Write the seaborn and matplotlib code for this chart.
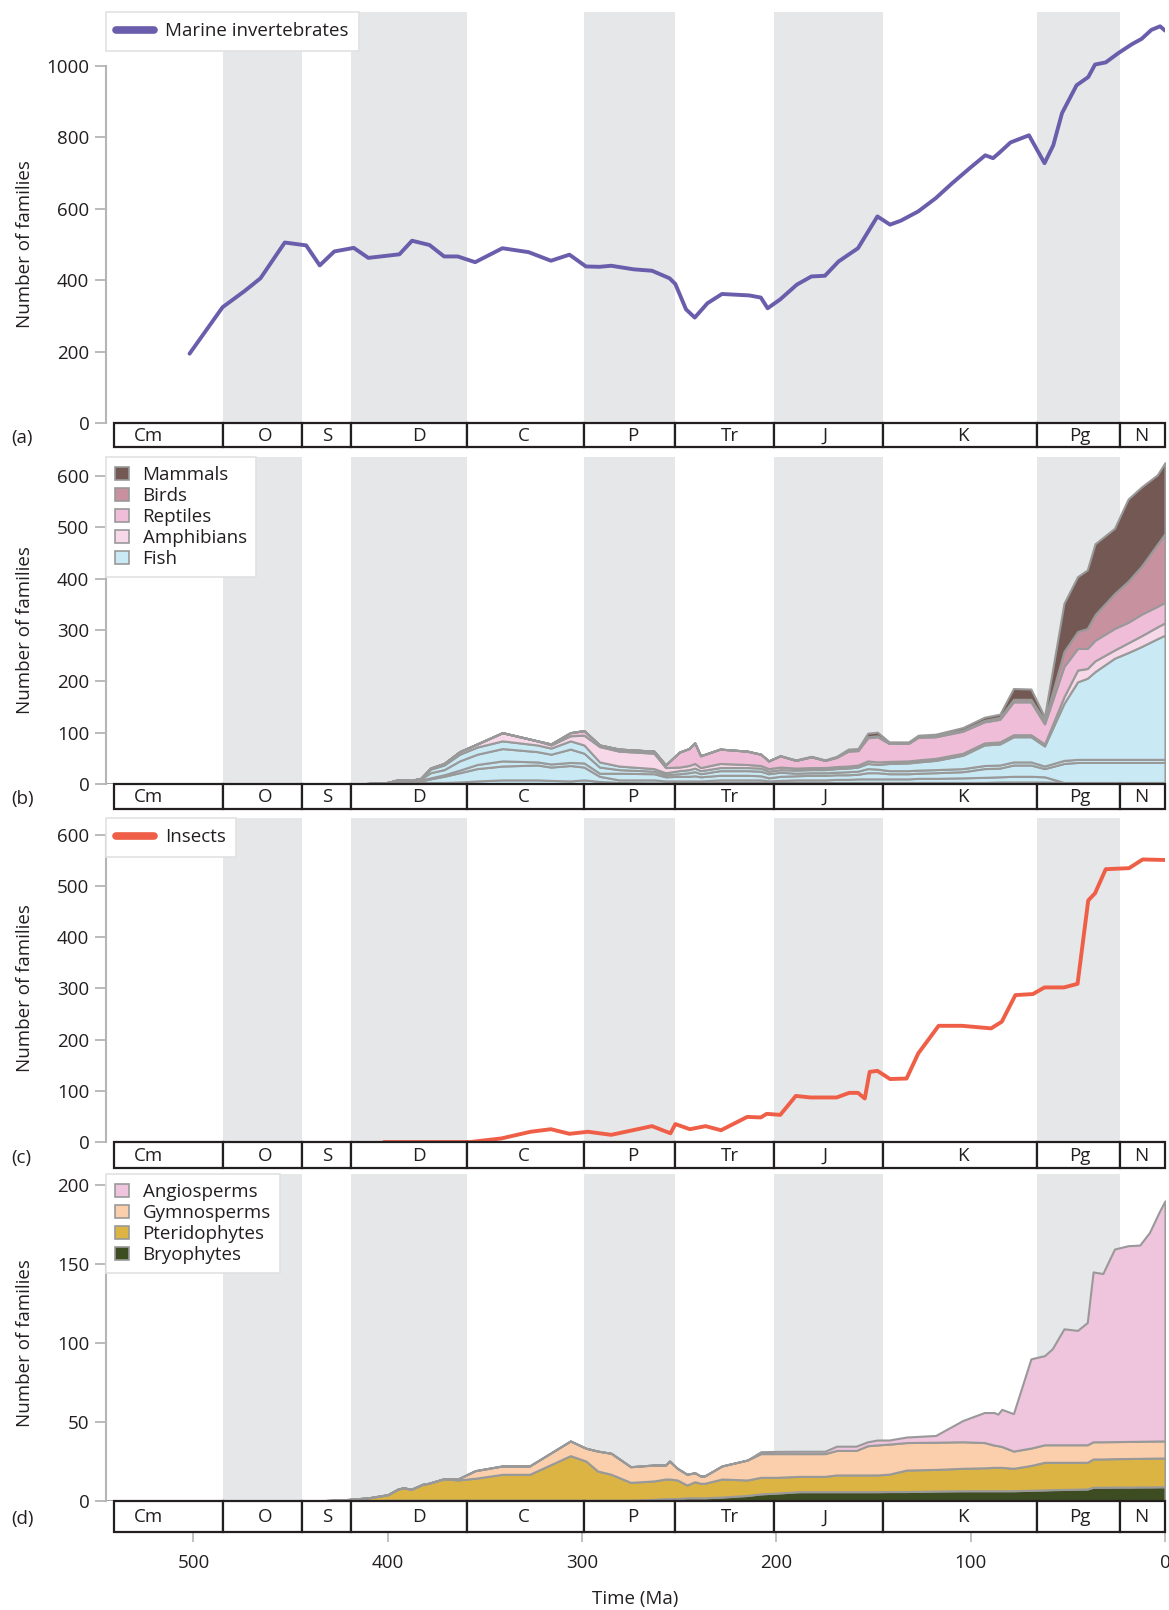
import numpy as np
import pandas as pd
import matplotlib
matplotlib.use("Agg")
import matplotlib.pyplot as plt
import seaborn as sns
from matplotlib.lines import Line2D
from matplotlib.patches import Patch

sns.set_theme(style="white")
plt.rcParams['font.family'] = ['Open Sans', 'DejaVu Sans']

FS = 13.5
TXT = "#231f20"
AXGREY = "#b5b5b5"
EDGE = "#999999"
BAND = "#e6e7e8"
XMAX = 545

# geological periods (Ma)
period_names = ["Cm", "O", "S", "D", "C", "P", "Tr", "J", "K", "Pg", "N"]
period_start = [541, 485, 444, 419, 359, 299, 252, 201, 145, 66, 23]
period_end = [485, 444, 419, 359, 299, 252, 201, 145, 66, 23, 0]
period_label_at = [523, 463, 431, 384, 330, 274, 224, 175, 104, 44, 12]
shaded = ["O", "D", "P", "J", "Pg"]

# (a) marine invertebrates
marine_ma = [502, 485, 473.5, 465.5, 453, 442, 435, 427.5, 417.5, 410, 394, 387.5, 378.5, 371, 364,
             355, 341, 327.5, 316, 306.5, 298, 291, 285, 273.5, 264, 255, 252, 246.5, 242, 235.5,
             228, 214, 208, 204.5, 198, 189.5, 182, 175, 168, 158, 148, 141.5, 136, 127, 118,
             109.5, 100.5, 92.5, 88.5, 85.5, 79.5, 70, 62, 57.5, 53, 45.5, 39.5, 36, 30.5, 24,
             17, 12, 7, 2.5, 0]
marine_n = [194, 324, 370, 405, 505, 497, 441, 480, 490, 462, 472, 510, 498, 466, 466,
            450, 489, 478, 454, 471, 438, 437, 440, 430, 426, 405, 389, 318, 295, 335,
            361, 357, 351, 321, 346, 387, 410, 412, 452, 489, 578, 555, 566, 592, 629,
            671, 713, 749, 741, 755, 785, 805, 727, 777, 867, 945, 968, 1003, 1009, 1035,
            1060, 1075, 1100, 1110, 1098]

# (b) vertebrates: upper edge of each stacked group
vert_ma = [420, 410, 400, 395, 388, 383, 378, 371, 363, 354,
           341, 323, 316, 306, 299, 291, 281, 263, 257, 250,
           245, 242, 239, 229, 215, 208, 204, 198, 190, 182,
           175, 169, 163, 158, 153, 148, 142, 132, 127, 118,
           104, 93, 85, 78, 69, 62, 52, 45, 40, 36,
           26, 19, 12, 4, 0]
fish_line1 = [0, 1, 2, 3, 3, 3, 3, 3, 4, 6, 8, 8, 7, 6, 8, 5, 3, 2, 2, 2,
              2, 2, 2, 3, 3, 3, 3, 3, 3, 3, 3, 3, 3, 3, 3, 3, 3, 3, 3, 3,
              3, 3, 4, 4, 4, 4, 3, 3, 3, 3, 3, 3, 3, 3, 3]
fish_line2 = [0, 1, 3, 5, 4, 6, 10, 15, 22, 30, 35, 37, 33, 36, 33, 15, 8, 8, 6, 6,
              6, 6, 6, 8, 8, 8, 6, 7, 8, 8, 8, 9, 9, 10, 10, 10, 10, 10, 11, 11,
              12, 13, 14, 15, 15, 14, 3, 3, 3, 3, 3, 3, 3, 3, 3]
fish_line3 = [0, 1, 3, 6, 5, 8, 12, 18, 27, 38, 45, 43, 39, 42, 41, 21, 21, 20, 14, 15,
              15, 16, 14, 17, 17, 16, 12, 15, 16, 17, 17, 18, 18, 19, 22, 22, 20, 20, 21, 22,
              24, 30, 31, 37, 37, 30, 40, 42, 42, 42, 42, 42, 42, 42, 42]
fish_line4 = [0, 1, 3, 7, 6, 10, 22, 28, 45, 58, 69, 63, 58, 68, 60, 33, 28, 25, 18, 20,
              22, 24, 20, 26, 26, 25, 20, 23, 21, 22, 22, 23, 24, 25, 30, 29, 26, 26, 27, 28,
              30, 36, 37, 43, 43, 35, 46, 48, 48, 48, 48, 48, 48, 48, 48]
fish_top = [0, 1, 3, 8, 7, 11, 29, 37, 58, 72, 84, 76, 70, 84, 76, 43, 35, 30, 22, 26,
            28, 31, 26, 32, 32, 31, 25, 28, 27, 28, 28, 30, 31, 33, 40, 38, 40, 41, 43, 46,
            56, 76, 78, 92, 92, 74, 157, 199, 206, 219, 245, 256, 268, 283, 290]
amphibian_top = [0, 1, 3, 8, 7, 11, 31, 40, 63, 78, 100, 84, 76, 94, 95, 73, 64, 60, 32, 33,
                 36, 40, 32, 40, 38, 36, 30, 33, 31, 32, 32, 34, 35, 37, 45, 43, 44, 45, 47, 50,
                 60, 80, 82, 96, 96, 78, 170, 222, 225, 240, 261, 275, 289, 306, 314]
reptile_top = [0, 1, 3, 8, 7, 11, 31, 40, 63, 78, 100, 84, 78, 100, 104, 76, 68, 64, 37, 62,
               69, 80, 55, 68, 64, 58, 45, 55, 46, 53, 46, 52, 64, 65, 90, 92, 79, 79, 91, 92,
               103, 121, 126, 160, 160, 117, 229, 264, 264, 280, 303, 315, 331, 346, 354]
bird_top = [0, 1, 3, 8, 7, 11, 31, 40, 63, 78, 100, 84, 78, 100, 104, 76, 68, 64, 37, 62,
            69, 80, 55, 68, 64, 58, 45, 55, 46, 53, 46, 52, 65, 66, 92, 94, 80, 80, 92, 94,
            105, 124, 130, 165, 165, 124, 258, 297, 303, 330, 371, 395, 425, 467, 488]
mammal_top = [0, 1, 3, 8, 7, 11, 31, 40, 63, 78, 100, 84, 78, 100, 104, 76, 68, 64, 37, 62,
              69, 80, 55, 68, 64, 58, 45, 55, 47, 54, 47, 54, 68, 69, 99, 101, 82, 82, 95, 97,
              110, 130, 136, 186, 185, 131, 352, 404, 417, 468, 498, 555, 579, 602, 626]

# (c) insects
insect_ma = [402, 357.5, 341.5, 326.5, 316, 306.5, 297, 285, 264, 254.5, 252, 244.5, 236.5, 228.5,
             215, 208, 205, 198, 190, 182.5, 169, 162.5, 158, 154.5, 152, 148, 141.5, 133, 127,
             116.5, 104.5, 89.5, 84, 77, 68, 62, 52, 45, 39.5, 36, 30.5, 18.5, 11.5, 0]
insect_n = [0, 0, 7, 20, 25, 16, 20, 14, 31, 17, 35, 25, 31, 23,
            49, 48, 55, 53, 90, 87, 87, 96, 96, 85, 137, 139, 123, 124, 173,
            227, 227, 222, 235, 287, 289, 302, 302, 309, 472, 486, 533, 535, 552, 551]

# (d) plants: upper edge of each stacked group
plant_ma = [437, 420, 410, 400, 395, 392, 388, 382, 379, 371, 364, 355, 341, 327, 306, 298, 292,
            285, 275, 263, 257, 255, 251, 246, 242, 239, 237, 228, 215, 208, 200, 188, 175, 169,
            159, 153, 148, 142, 133, 118, 104, 93, 88, 86, 84, 78, 69, 62, 58, 52, 45, 40, 37,
            32, 26, 19, 13, 8, 3, 0]
bryophyte_top = [0, 0, 0, 0.5, 0.5, 0.5, 0.5, 0.5, 0.5, 0.5, 0.5, 0.5, 0.5, 0.5, 0.5, 0.5, 0.5,
                 0.5, 0.5, 1, 1.5, 1.5, 1.5, 2, 2, 2, 2, 2.5, 3.5, 4.5, 5, 5.9, 5.9, 5.9,
                 5.9, 5.9, 5.9, 6, 6, 6.3, 6.5, 6.5, 6.5, 6.5, 6.5, 6.5, 6.8, 7, 7.2, 7.3, 7.5,
                 7.6, 8.7, 8.7, 8.8, 8.8, 8.9, 8.9, 9, 9]
pteridophyte_top = [0, 1, 2, 4, 7.4, 8.4, 7.4, 10.6, 11.2, 14.1, 13.3, 14.4, 16.9, 16.9, 28.7, 25.3,
                    19, 16.9, 11.8, 12.7, 13.9, 13.9, 13.3, 10.1, 12.2, 11.2, 11.2, 13.9, 13.3, 15,
                    15, 15.6, 15.6, 16.5, 16.5, 16.5, 16.5, 17, 19.6, 20, 20.7, 21, 21.3, 21.3,
                    21.3, 20.7, 22.5, 24.5, 24.5, 24.5, 24.5, 24.5, 26.6, 26.6, 26.8, 26.9, 27,
                    27.1, 27.2, 27.2]
gymnosperm_top = [0, 1, 2, 4, 7.4, 8.4, 7.4, 10.6, 11.2, 14.1, 13.9, 19.2, 22.2, 22.2, 38, 33.4,
                  31.6, 30.2, 21.7, 22.8, 22.8, 25.3, 20.7, 16.9, 17.9, 15.8, 15.8, 22.2, 25.9, 30,
                  30, 30, 30, 32, 32, 35, 35.5, 36, 37, 37.2, 37.5, 37, 35.4, 35, 34.5, 31.6,
                  33.5, 35.6, 35.6, 35.6, 35.6, 35.6, 37.5, 37.5, 37.6, 37.7, 37.8, 37.9, 38, 38]
angiosperm_top = [0, 1, 2, 4, 7.4, 8.4, 7.4, 10.6, 11.2, 14.1, 13.9, 19.2, 22.2, 22.2, 38, 33.4,
                  31.6, 30.2, 21.7, 22.8, 22.8, 25.3, 20.7, 16.9, 17.9, 15.8, 15.8, 22.2, 25.9, 31.2,
                  31.4, 31.5, 31.5, 34.7, 34.7, 37.5, 38.6, 38.6, 40.5, 41.5, 51, 56, 56, 55, 58,
                  55.3, 90, 92, 96.4, 109, 108, 113, 145, 144, 159.5, 161.6, 162, 170, 183, 190]

vert_groups = ["Mammals", "Birds", "Reptiles", "Amphibians", "Fish"]
vert_colors = {"Mammals": "#745853", "Birds": "#c8919f", "Reptiles": "#f0bdd8",
               "Amphibians": "#f7d8e8", "Fish": "#c9e9f4"}
plant_groups = ["Angiosperms", "Gymnosperms", "Pteridophytes", "Bryophytes"]
plant_colors = {"Angiosperms": "#efc4dd", "Gymnosperms": "#fbcfab",
                "Pteridophytes": "#dcb444", "Bryophytes": "#3e4c22"}

W, H = 1169, 1610
fig = plt.figure(figsize=(W / 100, H / 100), dpi=100)


def box(top, bottom):
    return [106 / W, 1 - bottom / H, (1165 - 106) / W, (bottom - top) / H]


def style_main(ax, ymax, ticks):
    ax.set_xlim(XMAX, 0)
    ax.set_ylim(0, ymax)
    for name in ["top", "right", "bottom"]:
        ax.spines[name].set_visible(False)
    ax.spines["left"].set_color(AXGREY)
    ax.spines["left"].set_linewidth(1.5)
    ax.spines["left"].set_bounds(0, ticks[-1])
    ax.set_yticks(ticks)
    ax.set_xticks([])
    ax.tick_params(axis="y", left=True, length=8, width=1.3, color=AXGREY, pad=4,
                   labelsize=FS, labelcolor=TXT)
    ax.set_xlabel("")
    ax.set_ylabel("Number of families", fontsize=FS, color=TXT)
    ax.yaxis.set_label_coords(-0.068, ticks[-1] / 2 / ymax)
    for s, e, n in zip(period_start, period_end, period_names):
        if n in shaded:
            ax.axvspan(e, s, color=BAND, lw=0, zorder=0)


def period_bar(ax, bottom_axis=False):
    ax.set_xlim(XMAX, 0)
    ax.set_ylim(0, 1)
    widths = [s - e for s, e in zip(period_start, period_end)]
    bars = ax.barh([0.5] * len(widths), widths, left=period_end, height=1,
                   color="white", edgecolor=TXT, linewidth=1.6)
    for b in bars:
        b.set_clip_on(False)
    for n, x in zip(period_names, period_label_at):
        ax.text(x, 0.47, n, ha="center", va="center", fontsize=FS, color=TXT)
    for sp in ax.spines.values():
        sp.set_visible(False)
    ax.set_yticks([])
    ax.patch.set_alpha(0)
    if bottom_axis:
        ax.set_xticks([500, 400, 300, 200, 100, 0])
        ax.tick_params(axis="x", bottom=True, length=7, width=1.2, color=AXGREY, pad=9,
                       labelsize=FS, labelcolor=TXT)
        ax.set_xlabel("Time (Ma)", fontsize=FS, color=TXT, labelpad=13)
    else:
        ax.set_xticks([])


def legend(ax, handles, labels, **kw):
    lg = ax.legend(handles, labels, loc="upper left", bbox_to_anchor=(0, 1.0),
                   borderaxespad=0, frameon=True, fancybox=False, framealpha=1,
                   edgecolor="#e2e2e2", fontsize=FS, **kw)
    lg.get_frame().set_linewidth(1.2)
    lg.set_zorder(10)
    for t in lg.get_texts():
        t.set_color(TXT)
    return lg


def stack(ax, t, tops, colors):
    lower = np.zeros(len(t))
    for top, c in zip(tops, colors):
        ax.fill_between(t, lower, top, facecolor=c, edgecolor=EDGE, linewidth=1.5, zorder=2)
        lower = np.asarray(top, dtype=float)


# ---- (a)
ax_a = fig.add_axes(box(12, 423))
style_main(ax_a, 1150, [0, 200, 400, 600, 800, 1000])
sns.lineplot(x=marine_ma, y=marine_n, ax=ax_a, color="#6a5dab", linewidth=2.8, zorder=3)
legend(ax_a, [Line2D([0], [0], color="#6a5dab", lw=5.5, solid_capstyle="round")],
       ["Marine invertebrates"], handlelength=2.0, handletextpad=0.6, borderpad=0.55)
period_bar(fig.add_axes(box(423, 447)))

# ---- (b)
ax_b = fig.add_axes(box(457, 784))
style_main(ax_b, 637, [0, 100, 200, 300, 400, 500, 600])
ax_b.axhline(0, color=EDGE, lw=2, zorder=1)
fc = vert_colors["Fish"]
stack(ax_b, vert_ma,
      [fish_line1, fish_line2, fish_line3, fish_line4, fish_top,
       amphibian_top, reptile_top, bird_top, mammal_top],
      [fc, fc, fc, fc, fc, vert_colors["Amphibians"], vert_colors["Reptiles"],
       vert_colors["Birds"], vert_colors["Mammals"]])
legend(ax_b, [Patch(facecolor=vert_colors[g], edgecolor=EDGE, lw=1.2) for g in vert_groups],
       vert_groups, handlelength=0.7, handleheight=0.7, handletextpad=0.75,
       labelspacing=0.15, borderpad=0.5)
period_bar(fig.add_axes(box(784, 809)))

# ---- (c)
ax_c = fig.add_axes(box(818, 1142))
style_main(ax_c, 633, [0, 100, 200, 300, 400, 500, 600])
sns.lineplot(x=insect_ma, y=insect_n, ax=ax_c, color="#ef5f48", linewidth=2.8, zorder=3)
legend(ax_c, [Line2D([0], [0], color="#ef5f48", lw=5.5, solid_capstyle="round")],
       ["Insects"], handlelength=2.0, handletextpad=0.6, borderpad=0.55)
period_bar(fig.add_axes(box(1142, 1168)))

# ---- (d)
ax_d = fig.add_axes(box(1174, 1501))
style_main(ax_d, 207, [0, 50, 100, 150, 200])
ax_d.axhline(0, color=EDGE, lw=2, zorder=1)
stack(ax_d, plant_ma, [bryophyte_top, pteridophyte_top, gymnosperm_top, angiosperm_top],
      [plant_colors["Bryophytes"], plant_colors["Pteridophytes"],
       plant_colors["Gymnosperms"], plant_colors["Angiosperms"]])
legend(ax_d, [Patch(facecolor=plant_colors[g], edgecolor=EDGE, lw=1.2) for g in plant_groups],
       plant_groups, handlelength=0.7, handleheight=0.7, handletextpad=0.75,
       labelspacing=0.15, borderpad=0.5)
period_bar(fig.add_axes(box(1501, 1532)), bottom_axis=True)

for lab, y in zip(["(a)", "(b)", "(c)", "(d)"], [438, 799, 1158, 1519]):
    fig.text(11 / W, 1 - y / H, lab, ha="left", va="center", fontsize=FS, color=TXT)

fig.savefig("out.png", dpi=100)
